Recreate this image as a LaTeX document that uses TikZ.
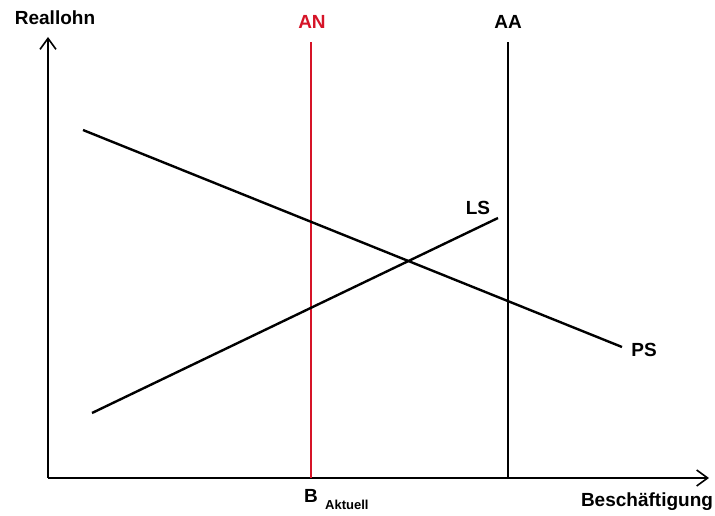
\documentclass[tikz,border=0pt]{standalone}
\usepackage{fontspec}
\setmainfont{Liberation Sans}
\usetikzlibrary{arrows.meta}
\definecolor{anred}{RGB}{214,20,40}
\begin{document}
\begin{tikzpicture}[x=1pt,y=-1pt,
  axis/.style={line width=1.6pt,-{Straight Barb[length=11pt,width=16pt,line width=1.6pt]}},
  curve/.style={line width=2.4pt,black},
  lbl/.style={font=\fontsize{19}{22}\selectfont\bfseries,inner sep=0pt}]
\useasboundingbox (0,0) rectangle (715,516);
\coordinate (O) at (48,478);
\coordinate (Ytip) at (48,37);
\coordinate (Xtip) at (709,478);
\draw[axis] (O) -- (Ytip);
\draw[axis] (O) -- (Xtip);
% vertical lines
\coordinate (ANtop) at (311,42);
\coordinate (ANbot) at (311,478);
\coordinate (AAtop) at (508,42);
\coordinate (AAbot) at (508,478);
\draw[line width=2.4pt,anred] (ANbot) -- (ANtop);
\draw[curve] (AAbot) -- (AAtop);
% PS and LS
\coordinate (PSa) at (83,130);
\coordinate (PSb) at (622,347);
\coordinate (LSa) at (92,413);
\coordinate (LSb) at (498,218);
\draw[curve] (PSa) -- (PSb);
\draw[curve] (LSa) -- (LSb);
% labels
\node[lbl] (reallohn) at (55,18) {Reallohn};
\node[lbl,text=anred] (an) at (312,22) {AN};
\node[lbl] (aa) at (508,22) {AA};
\node[lbl] (ls) at (478,208) {LS};
\node[lbl] (ps) at (644,350) {PS};
\node[lbl] (besch) at (647,502) {Beschäftigung};
\node[lbl,anchor=west] (b) at (304,496) {B};
\node[inner sep=0pt,anchor=west,font=\fontsize{13}{15}\selectfont\bfseries] (akt) at (325,505) {Aktuell};
\end{tikzpicture}
\end{document}
